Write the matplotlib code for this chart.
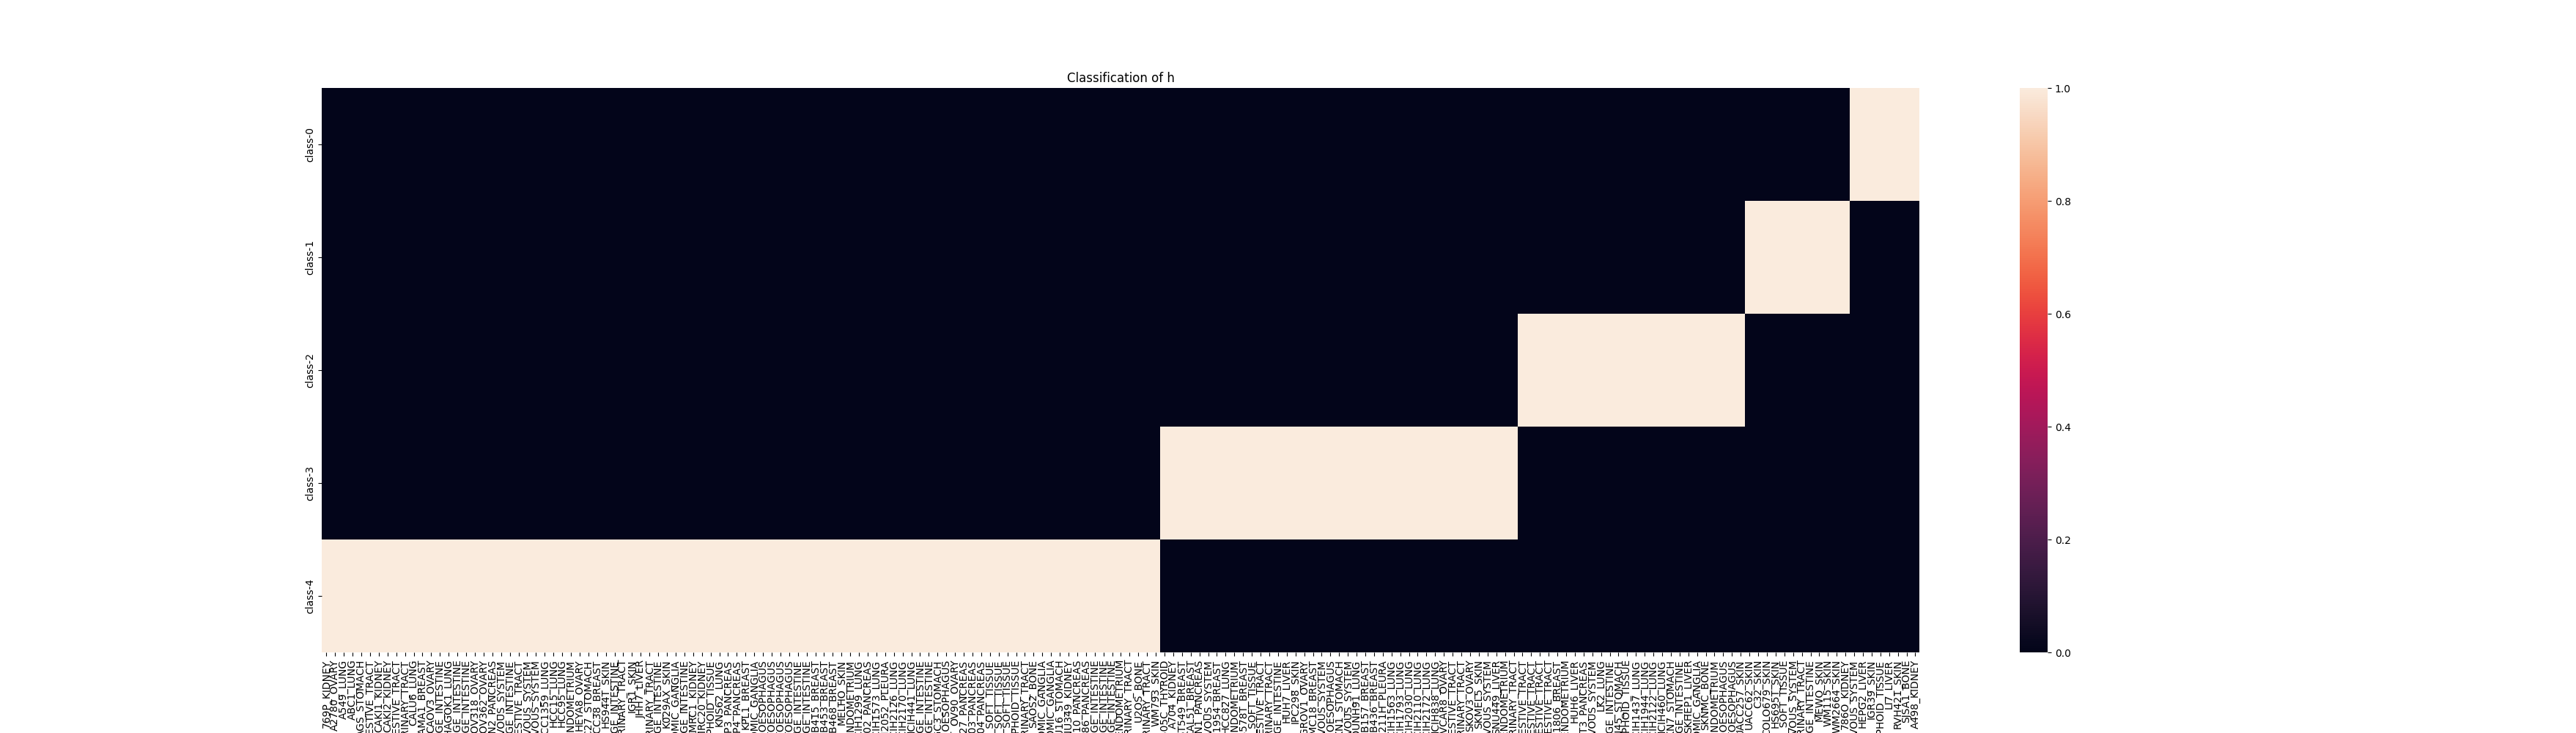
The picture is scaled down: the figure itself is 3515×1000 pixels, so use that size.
import numpy as np
import pandas as pd
import matplotlib
matplotlib.use("Agg")
import matplotlib.pyplot as plt
import seaborn as sns

# cell lines assigned to each class (column order as in the chart)
class4_lines = [
    "769P_KIDNEY", "A2780_OVARY", "A549_LUNG", "ABC1_LUNG", "AGS_STOMACH",
    "BICR22_UPPER_AERODIGESTIVE_TRACT", "CAKI1_KIDNEY", "CAKI2_KIDNEY",
    "BICR6_UPPER_AERODIGESTIVE_TRACT", "BFTC905_URINARY_TRACT", "CALU6_LUNG",
    "CAMA1_BREAST", "CAOV3_OVARY", "CCK81_LARGE_INTESTINE", "CHAGOK1_LUNG",
    "COLO205_LARGE_INTESTINE", "COLO678_LARGE_INTESTINE", "COV318_OVARY",
    "COV362_OVARY", "CAPAN2_PANCREAS", "DAOY_CENTRAL_NERVOUS_SYSTEM",
    "DLD1_LARGE_INTESTINE", "DETROIT562_UPPER_AERODIGESTIVE_TRACT",
    "DBTRG05MG_CENTRAL_NERVOUS_SYSTEM", "GAMG_CENTRAL_NERVOUS_SYSTEM",
    "HCC1359_LUNG", "HCC15_LUNG", "HCC95_LUNG", "HEC1A_ENDOMETRIUM",
    "HEYA8_OVARY", "HGC27_STOMACH", "HCC38_BREAST", "HS944T_SKIN",
    "HT115_LARGE_INTESTINE", "J82_URINARY_TRACT", "IGR1_SKIN", "JHH7_LIVER",
    "KMBC2_URINARY_TRACT", "KM12_LARGE_INTESTINE", "K029AX_SKIN",
    "KELLY_AUTONOMIC_GANGLIA", "LOVO_LARGE_INTESTINE", "KMRC1_KIDNEY",
    "KMRC20_KIDNEY", "KMS11_HAEMATOPOIETIC_AND_LYMPHOID_TISSUE", "KNS62_LUNG",
    "KP3_PANCREAS", "KP4_PANCREAS", "KPL1_BREAST", "KPNYN_AUTONOMIC_GANGLIA",
    "KYSE140_OESOPHAGUS", "KYSE150_OESOPHAGUS", "KYSE180_OESOPHAGUS",
    "KYSE410_OESOPHAGUS", "LS1034_LARGE_INTESTINE", "LS513_LARGE_INTESTINE",
    "MDAMB415_BREAST", "MDAMB453_BREAST", "MDAMB468_BREAST", "MELHO_SKIN",
    "MFE296_ENDOMETRIUM", "NCIH1299_LUNG", "PATU8902_PANCREAS",
    "NCIH1573_LUNG", "NCIH2052_PLEURA", "NCIH2126_LUNG", "NCIH2170_LUNG",
    "NCIH441_LUNG", "NCIH508_LARGE_INTESTINE", "NCIH716_LARGE_INTESTINE",
    "NUGC3_STOMACH", "OE19_OESOPHAGUS", "OV90_OVARY", "PANC0327_PANCREAS",
    "PANC0403_PANCREAS", "PANC0504_PANCREAS", "RD_SOFT_TISSUE",
    "RH30_SOFT_TISSUE", "SJRH30_SOFT_TISSUE",
    "SUDHL4_HAEMATOPOIETIC_AND_LYMPHOID_TISSUE", "RT4_URINARY_TRACT",
    "SAOS2_BONE", "SKNAS_AUTONOMIC_GANGLIA", "SKNFI_AUTONOMIC_GANGLIA",
    "SNU16_STOMACH", "SNU349_KIDNEY", "SNU410_PANCREAS", "SU8686_PANCREAS",
    "SW1417_LARGE_INTESTINE", "SW480_LARGE_INTESTINE", "SW620_LARGE_INTESTINE",
    "TEN_ENDOMETRIUM", "TCCSUP_URINARY_TRACT", "U2OS_BONE",
    "UMUC3_URINARY_TRACT", "WM793_SKIN",
]
class3_lines = [
    "8505C_THYROID", "A704_KIDNEY", "BT549_BREAST", "CAL51_BREAST",
    "CAPAN1_PANCREAS", "D283MED_CENTRAL_NERVOUS_SYSTEM", "HCC1954_BREAST",
    "HCC827_LUNG", "HEC59_ENDOMETRIUM", "HS578T_BREAST", "HT1080_SOFT_TISSUE",
    "HSC3_UPPER_AERODIGESTIVE_TRACT", "HT1197_URINARY_TRACT",
    "HCT116_LARGE_INTESTINE", "HUH7_LIVER", "IPC298_SKIN", "IGROV1_OVARY",
    "HMC18_BREAST", "KNS42_CENTRAL_NERVOUS_SYSTEM", "KYSE30_OESOPHAGUS",
    "MKN1_STOMACH", "LN18_CENTRAL_NERVOUS_SYSTEM", "LOUNH91_LUNG",
    "MDAMB157_BREAST", "MDAMB436_BREAST", "MSTO211H_PLEURA", "NCIH1563_LUNG",
    "NCIH1793_LUNG", "NCIH2030_LUNG", "NCIH2110_LUNG", "NCIH2172_LUNG",
    "NCIH838_LUNG", "OVCAR8_OVARY", "PECAPJ49_UPPER_AERODIGESTIVE_TRACT",
    "SCABER_URINARY_TRACT", "SKOV3_OVARY", "SKMEL5_SKIN",
    "SF295_CENTRAL_NERVOUS_SYSTEM", "SNU449_LIVER", "SNGM_ENDOMETRIUM",
    "SW780_URINARY_TRACT",
]
class2_lines = [
    "BICR16_UPPER_AERODIGESTIVE_TRACT", "FADU_UPPER_AERODIGESTIVE_TRACT",
    "SCC9_UPPER_AERODIGESTIVE_TRACT", "SCC25_UPPER_AERODIGESTIVE_TRACT",
    "HCC1806_BREAST", "AN3CA_ENDOMETRIUM", "HUH6_LIVER", "HUPT3_PANCREAS",
    "U87MG_CENTRAL_NERVOUS_SYSTEM", "LK2_LUNG", "HCT15_LARGE_INTESTINE",
    "MKN45_STOMACH", "JURKAT_HAEMATOPOIETIC_AND_LYMPHOID_TISSUE",
    "NCIH1437_LUNG", "NCIH1944_LUNG", "NCIH2122_LUNG", "NCIH460_LUNG",
    "MKN7_STOMACH", "RKO_LARGE_INTESTINE", "SKHEP1_LIVER",
    "SKNSH_AUTONOMIC_GANGLIA", "SKNMC_BONE", "KLE_ENDOMETRIUM",
    "KYSE450_OESOPHAGUS", "KYSE510_OESOPHAGUS", "UACC257_SKIN",
]
class1_lines = [
    "UACC62_SKIN", "C32_SKIN", "COLO679_SKIN", "HS695T_SKIN",
    "A204_SOFT_TISSUE", "SF268_CENTRAL_NERVOUS_SYSTEM", "T24_URINARY_TRACT",
    "SW48_LARGE_INTESTINE", "MEWO_SKIN", "WM115_SKIN", "WM2664_SKIN",
    "786O_KIDNEY",
]
class0_lines = [
    "U251MG_CENTRAL_NERVOUS_SYSTEM", "HEPG2_LIVER", "IGR39_SKIN",
    "KARPAS299_HAEMATOPOIETIC_AND_LYMPHOID_TISSUE", "LI7_LIVER",
    "RVH421_SKIN", "SJSA1_BONE", "A498_KIDNEY",
]

class_names = ["class-0", "class-1", "class-2", "class-3", "class-4"]
groups = [class0_lines, class1_lines, class2_lines, class3_lines, class4_lines]

# columns: class-4 first, class-0 last
columns = class4_lines + class3_lines + class2_lines + class1_lines + class0_lines
mat = np.zeros((len(class_names), len(columns)))
for i, lines in enumerate(groups):
    for name in lines:
        mat[i, columns.index(name)] = 1.0
df = pd.DataFrame(mat, index=class_names, columns=columns)

fig, ax = plt.subplots(figsize=(35.16, 10))
sns.heatmap(df, ax=ax, xticklabels=True)
ax.set_title("Classification of h")
fig.savefig("out.png", dpi=100)
